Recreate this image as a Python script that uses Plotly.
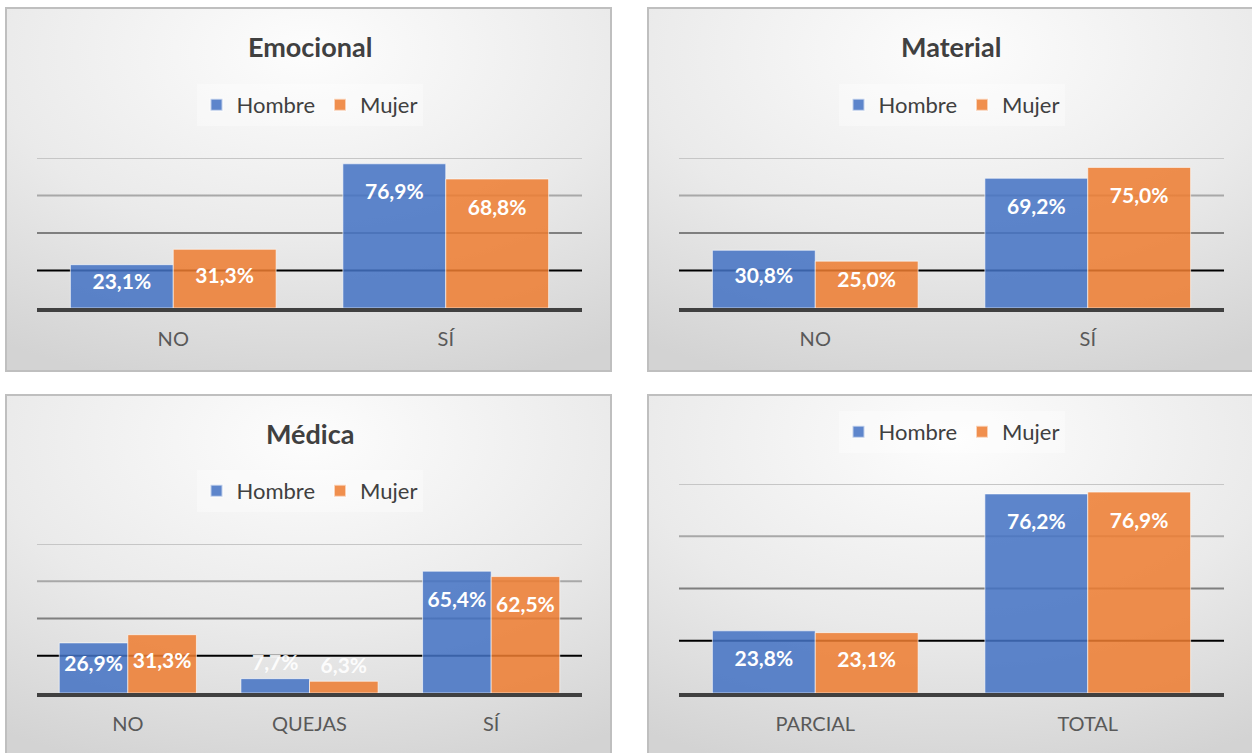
import base64
import plotly.graph_objects as go

# ---------------- data ----------------
cats_emo = ["NO", "SÍ"]
emo_hombre = [23.1, 76.9]
emo_mujer = [31.3, 68.8]

cats_mat = ["NO", "SÍ"]
mat_hombre = [30.8, 69.2]
mat_mujer = [25.0, 75.0]

cats_med = ["NO", "QUEJAS", "SÍ"]
med_hombre = [26.9, 7.7, 65.4]
med_mujer = [31.3, 6.3, 62.5]

cats_tot = ["PARCIAL", "TOTAL"]
tot_hombre = [23.8, 76.2]
tot_mujer = [23.1, 76.9]

titles = ["Emocional", "Material", "Médica", ""]

# ---------------- styling ----------------
W, H = 1252, 753
FONT = "Lato"
BLUE = "rgba(68,114,196,0.86)"
ORANGE = "rgba(237,125,49,0.86)"
DARK = "#404040"
GAP = 0.245
YMAX = 80


def px(x):
    return x / W


def py(y):
    return 1 - y / H


def fmt(v):
    return f"{v:.1f}%".replace(".", ",")


panels = [
    dict(box=(6, 8, 611, 371), plot=(37, 158, 582, 308), title_y=47, legend_y=105,
         cats=cats_emo, h=emo_hombre, m=emo_mujer),
    dict(box=(648, 8, 1260, 371), plot=(679, 158, 1224, 308), title_y=47, legend_y=105,
         cats=cats_mat, h=mat_hombre, m=mat_mujer),
    dict(box=(6, 395, 611, 760), plot=(37, 544, 582, 693), title_y=433, legend_y=491,
         cats=cats_med, h=med_hombre, m=med_mujer),
    dict(box=(648, 395, 1260, 760), plot=(679, 484, 1224, 693), title_y=None, legend_y=432,
         cats=cats_tot, h=tot_hombre, m=tot_mujer),
]

svg = ('<svg xmlns="http://www.w3.org/2000/svg" width="600" height="360" viewBox="0 0 600 360" '
       'preserveAspectRatio="none"><defs><radialGradient id="g" cx="0.5" cy="0.12" r="0.95">'
       '<stop offset="0" stop-color="#fdfdfd"/><stop offset="0.55" stop-color="#eaeaea"/>'
       '<stop offset="1" stop-color="#d3d3d3"/></radialGradient></defs>'
       '<rect width="600" height="360" fill="url(#g)"/></svg>')
svg_uri = "data:image/svg+xml;base64," + base64.b64encode(svg.encode()).decode()

fig = go.Figure()
shapes, images, annotations = [], [], []
layout_extra = {}

grid_colors = {20: "#000000", 40: "#7f7f7f", 60: "#a8a8a8", 80: "#c6c6c6"}

for i, p in enumerate(panels):
    k = "" if i == 0 else str(i + 1)
    xa, ya = "x" + k, "y" + k
    leg = "legend" + k
    bx0, by0, bx1, by1 = p["box"]
    qx0, qy0, qx1, qy1 = p["plot"]
    ppu = (qy1 - qy0) / YMAX  # pixels per unit

    images.append(dict(source=svg_uri, xref="paper", yref="paper", x=px(bx0), y=py(by0),
                       sizex=px(bx1 - bx0), sizey=(by1 - by0) / H, xanchor="left", yanchor="top",
                       sizing="stretch", layer="below"))
    shapes.append(dict(type="rect", xref="paper", yref="paper", x0=px(bx0), x1=px(bx1),
                       y0=py(by1), y1=py(by0), line=dict(color="#bfbfbf", width=2),
                       fillcolor="rgba(0,0,0,0)", layer="below"))

    for name, vals, color in [("Hombre", p["h"], BLUE), ("Mujer", p["m"], ORANGE)]:
        fig.add_trace(go.Bar(
            x=p["cats"], y=vals, name=name, xaxis=xa, yaxis=ya, legend=leg,
            offsetgroup=name, alignmentgroup="a" + k,
            marker=dict(color=color, line=dict(color="rgba(255,255,255,0.6)", width=1)),
            hoverinfo="skip",
        ))
    for name, vals in [("Hombre", p["h"]), ("Mujer", p["m"])]:
        inside = [v * ppu > 30 for v in vals]
        sizes = []
        for v, ins in zip(vals, inside):
            if ins:
                off = min(28.0, v * ppu / 2 - 3)
                sizes.append(max(2.0, 2 * (off - 13)))
            else:
                sizes.append(4)
        fig.add_trace(go.Scatter(
            x=p["cats"], y=vals, xaxis=xa, yaxis=ya, mode="markers+text", showlegend=False,
            offsetgroup=name, alignmentgroup="a" + k,
            marker=dict(size=sizes, opacity=0),
            text=[fmt(v) for v in vals],
            textposition=["bottom center" if ins else "top center" for ins in inside],
            textfont=dict(family=FONT, size=21,
                          color=["white" if ins else "rgba(255,255,255,0.92)" for ins in inside],
                          weight="bold"),
            cliponaxis=False, hoverinfo="skip",
        ))

    layout_extra["xaxis" + k] = dict(
        domain=[px(qx0), px(qx1)], anchor=ya, showgrid=False, zeroline=False,
        showline=True, linecolor=DARK, linewidth=3.5,
        ticks="", ticklabelstandoff=10, tickfont=dict(family=FONT, size=20, color="#595959"),
        fixedrange=True,
    )
    layout_extra["yaxis" + k] = dict(
        domain=[py(qy1), py(qy0)], anchor=xa, range=[0, YMAX], showgrid=False, zeroline=False,
        showticklabels=False, showline=False, fixedrange=True,
    )
    for gv, gc in grid_colors.items():
        shapes.append(dict(type="line", xref=xa + " domain", yref=ya, x0=0, x1=1, y0=gv, y1=gv,
                           line=dict(color=gc, width=2), layer="below"))

    cx = px((qx0 + qx1) / 2)
    layout_extra[leg] = dict(
        orientation="h", x=cx, y=py(p["legend_y"]), xanchor="center", yanchor="middle",
        bgcolor="rgba(255,255,255,0.35)", font=dict(family=FONT, size=22, color=DARK),
        itemsizing="constant", traceorder="normal", itemwidth=30,
    )
    if p["title_y"] is not None:
        annotations.append(dict(text=f"<b>{titles[i]}</b>", xref="paper", yref="paper", x=cx,
                                y=py(p["title_y"]), xanchor="center", yanchor="middle",
                                showarrow=False, font=dict(family=FONT, size=27, color=DARK)))

fig.update_layout(
    width=W, height=H, margin=dict(l=0, r=0, t=0, b=0),
    paper_bgcolor="white", plot_bgcolor="rgba(0,0,0,0)",
    barmode="group", bargap=GAP, bargroupgap=0,
    scattermode="group", scattergap=GAP,
    shapes=shapes, images=images, annotations=annotations,
    font=dict(family=FONT, color=DARK),
    **layout_extra,
)

fig.write_html("out.html")
